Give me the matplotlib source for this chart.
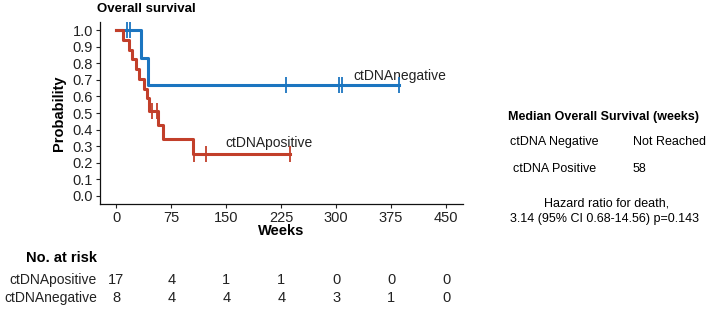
import matplotlib
matplotlib.use("Agg")
import matplotlib.pyplot as plt
import numpy as np

plt.rcParams["font.family"] = ["Liberation Sans", "DejaVu Sans"]

# ── Data ────────────────────────────────────────────────────────────────────
neg_time = [0, 33, 43, 386]
neg_surv = [1.0, 0.833, 0.667, 0.667]
neg_censor = [14.5, 19, 232, 304, 308, 386]

pos_time = [0, 9, 17, 21, 27, 31, 38, 41, 44, 57, 64, 104, 237]
pos_surv = [1.0, 0.941, 0.882, 0.824, 0.765, 0.706, 0.647, 0.588, 0.51,
            0.425, 0.34, 0.255, 0.255]
pos_censor = [48, 56, 106, 122, 237]

risk_times = [0, 75, 150, 225, 300, 375, 450]
risk_pos = [17, 4, 1, 1, 0, 0, 0]
risk_neg = [8, 4, 4, 4, 3, 1, 0]

BLUE = "#1b75c0"
RED = "#c23f2a"
TXT = "#222222"


def level_at(times, surv, t):
    i = np.searchsorted(times, t, side="right") - 1
    return np.asarray(surv)[i]


W, H = 708, 315
fig = plt.figure(figsize=(W / 100, H / 100), dpi=100, facecolor="white")

# main KM axes (pixel box: x 100..462, y 22..204)
ax = fig.add_axes([100 / W, 1 - 204 / H, 362.5 / W, 182 / H])

for t, s, cens, col in [(neg_time, neg_surv, neg_censor, BLUE),
                        (pos_time, pos_surv, pos_censor, RED)]:
    ax.step(t, s, where="post", color=col, lw=2.2, zorder=3)
    cy = [level_at(t, s, c) for c in cens]
    ax.plot(cens, cy, ls="none", marker="|", ms=11, mew=1.3, color=col, zorder=4)

ax.text(324, 0.722, "ctDNAnegative", fontsize=10, color=TXT, va="center", ha="left")
ax.text(149, 0.318, "ctDNApositive", fontsize=10, color=TXT, va="center", ha="left")

ax.set_xlim(-22.5, 472.5)
ax.set_ylim(-0.05, 1.05)
ax.set_xticks(risk_times)
ax.set_yticks(np.round(np.arange(0, 1.01, 0.1), 1))
ax.set_yticklabels([f"{v:.1f}" for v in np.arange(0, 1.01, 0.1)])
ax.tick_params(labelsize=10.5, colors=TXT, length=3, width=0.8, pad=2)
for side in ["top", "right"]:
    ax.spines[side].set_visible(False)
for side in ["left", "bottom"]:
    ax.spines[side].set_linewidth(0.9)
    ax.spines[side].set_color("#111111")

ax.set_xlabel("Weeks", fontsize=10.5, fontweight="bold", labelpad=-1)
ax.set_ylabel("Probability", fontsize=10.5, fontweight="bold", labelpad=5)
fig.text(97 / W, 1 - 9 / H, "Overall survival", fontsize=9.5, fontweight="bold",
         ha="left", va="center")

# ── Right-hand summary ──────────────────────────────────────────────────────
fig.text(603 / W, 1 - 117 / H, "Median Overall Survival (weeks)", fontsize=9,
         fontweight="bold", ha="center", va="center")
fig.text(554 / W, 1 - 142 / H, "ctDNA Negative", fontsize=9, ha="center", va="center")
fig.text(633 / W, 1 - 142 / H, "Not Reached", fontsize=9, ha="left", va="center")
fig.text(555 / W, 1 - 169 / H, "ctDNA Positive", fontsize=9, ha="center", va="center")
fig.text(633 / W, 1 - 169 / H, "58", fontsize=9, ha="left", va="center")
fig.text(607 / W, 1 - 203 / H, "Hazard ratio for death,", fontsize=9,
         ha="center", va="center")
fig.text(605 / W, 1 - 219 / H, "3.14 (95% CI 0.68-14.56) p=0.143", fontsize=9,
         ha="center", va="center")

# ── Number at risk table (same x-scale as the KM axes) ─────────────────────
rax = fig.add_axes([100 / W, 0, 362.5 / W, 1 - 245 / H])
rax.set_xlim(ax.get_xlim())
rax.set_ylim(0, 70)
rax.axis("off")
rows = [("ctDNApositive", risk_pos, 35), ("ctDNAnegative", risk_neg, 17)]
for name, vals, y in rows:
    rax.text(-0.008, y, name, transform=rax.get_yaxis_transform(),
             fontsize=10, ha="right", va="center", color=TXT)
    for t, n in zip(risk_times, vals):
        rax.text(t, y, str(n), fontsize=10.5, ha="center", va="center", color=TXT)
fig.text(97 / W, 1 - 258 / H, "No. at risk", fontsize=10.5, fontweight="bold",
         ha="right", va="center")

fig.savefig("out.png", dpi=100, facecolor="white")
